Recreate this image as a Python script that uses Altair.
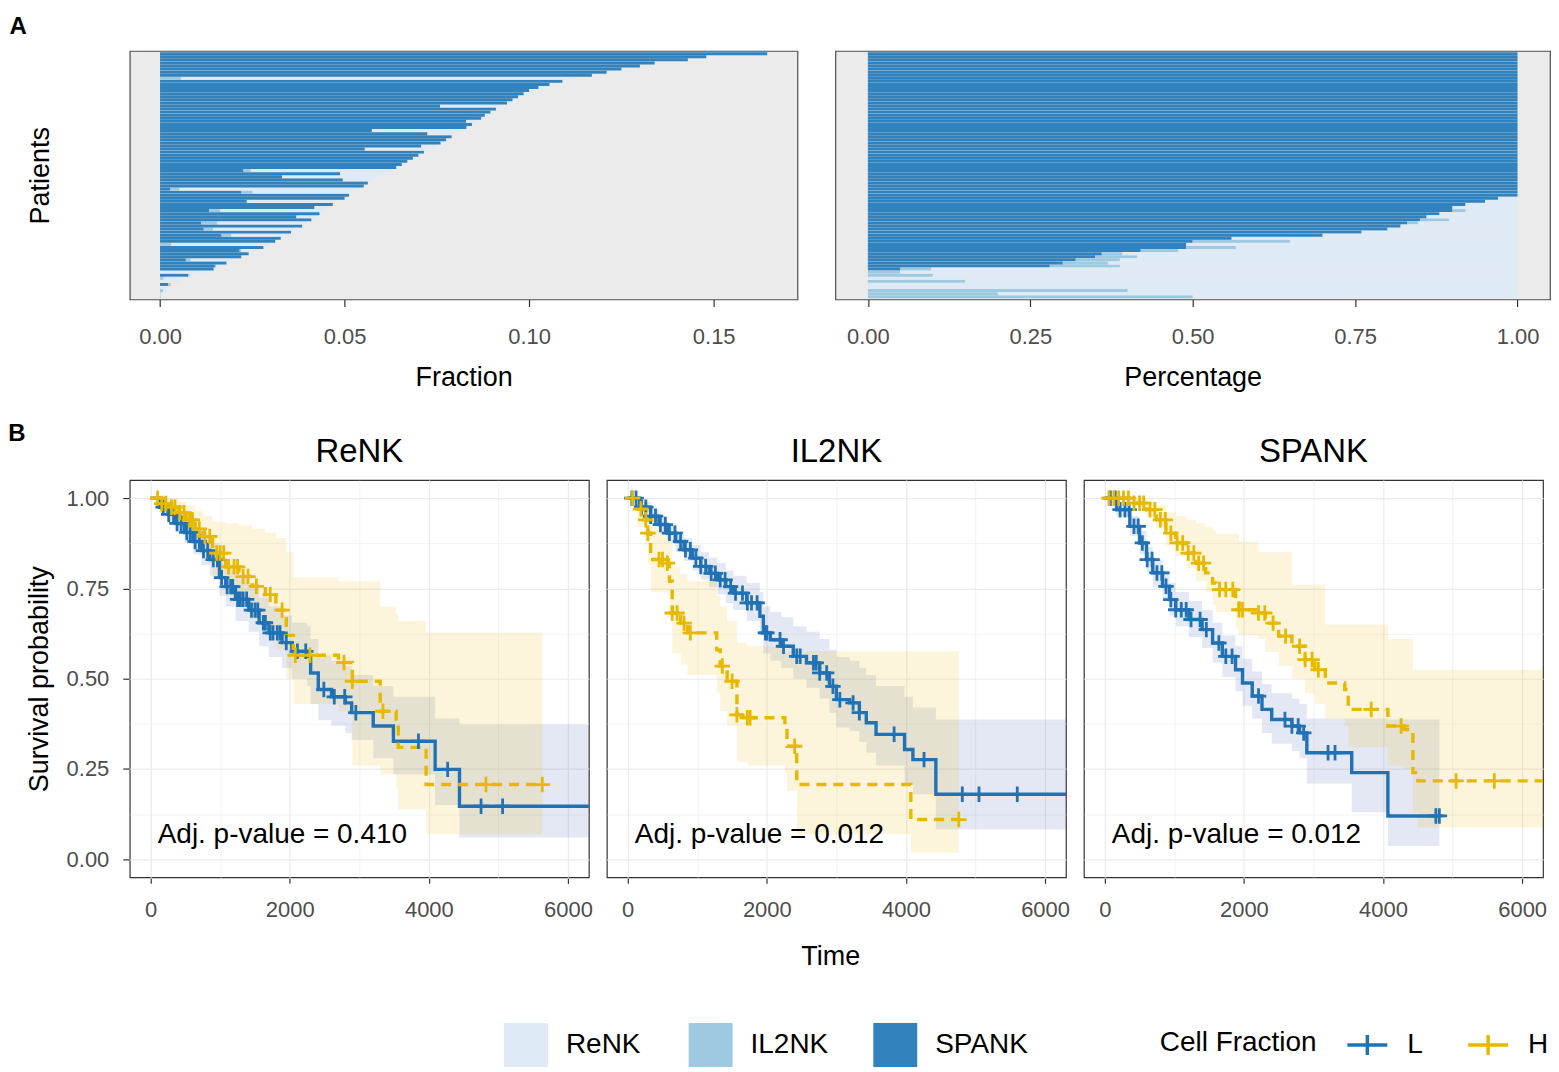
import altair as alt
import pandas as pd

FONT = "Liberation Sans"

# ---------------- Panel A data ----------------
cell_types = ["ReNK", "IL2NK", "SPANK"]
cell_colors = ["#DEEBF7", "#9ECAE1", "#3182BD"]

# total NK fraction per patient (patients ordered by total, bottom row first)
total_fraction = [
    0.0004, 0.001, 0.002, 0.003, 0.0045, 0.0055, 0.0065, 0.009, 0.012, 0.0145,
    0.0165, 0.018, 0.020, 0.022, 0.024, 0.026, 0.028, 0.0298, 0.0312, 0.0327,
    0.034, 0.0355, 0.037, 0.0385, 0.040, 0.041, 0.042, 0.0432, 0.0442, 0.0455,
    0.0468, 0.048, 0.050, 0.0512, 0.0525, 0.054, 0.0552, 0.0563, 0.0576, 0.059,
    0.061, 0.0628, 0.064, 0.0655, 0.067, 0.0685, 0.070, 0.0715, 0.073, 0.0745,
    0.076, 0.0775, 0.079, 0.0805, 0.082, 0.083, 0.0845, 0.0855, 0.087, 0.088,
    0.0895, 0.091, 0.0925, 0.094, 0.0955, 0.097, 0.0985, 0.100, 0.1025, 0.1055,
    0.109, 0.113, 0.117, 0.121, 0.125, 0.130, 0.134, 0.143, 0.148, 0.1645,
]
# share of the total that is SPANK
spank_share = [
    0, 0, 0, 0, 0.5, 0, 0, 0.85, 0, 1,
    0.9, 1, 0.35, 1, 1, 0.83, 1, 0, 1, 1,
    0.49, 1, 0.32, 1, 0.28, 1, 0.88, 1, 0.3, 0.92,
    1, 0.49, 1, 1, 0.42, 0.05, 1, 1, 0.86, 0.56,
    0.8, 0.36, 1, 1, 1, 1, 1, 1, 0.76, 0.95,
    1, 1, 1, 0.9, 0.7, 1, 1, 0.97, 1, 1,
    1, 1, 0.82, 1, 1, 1, 1, 1, 1, 1,
    1, 0, 1, 1, 1, 1, 1, 1, 1, 1,
]
# share of the non-SPANK remainder that is IL2NK (rest is ReNK)
il2nk_share_of_rest = [
    0.5, 0.2, 0.4, 0, 0.3, 0, 0.15, 0.3, 0, 0,
    0.2, 0, 0.1, 0, 0, 0.1, 0, 0.1, 0, 0,
    0.15, 0, 0.1, 0, 0.15, 0, 0, 0, 0.1, 0,
    0, 0, 0, 0, 0.1, 0.05, 0, 0, 0, 0,
    0, 0.05, 0, 0, 0, 0, 0, 0, 0, 0,
    0, 0, 0, 0, 0, 0, 0, 0, 0, 0,
    0, 0, 0, 0, 0, 0, 0, 0, 0, 0,
    0, 0.05, 0, 0, 0, 0, 0, 0, 0, 0,
]
fraction_ticks = [0, 0.05, 0.10, 0.15]
percentage_ticks = [0, 0.25, 0.5, 0.75, 1.0]

# ---------------- Panel B data ----------------
panels = ["ReNK", "IL2NK", "SPANK"]
p_value_labels = ["Adj. p-value = 0.410", "Adj. p-value = 0.012", "Adj. p-value = 0.012"]
groups = ["L", "H"]
group_colors = ["#2171B5", "#E7B800"]
band_colors = {"L": "#3A5BAE", "H": "#E7B800"}
line_dash = {"L": [1, 0], "H": [10, 7]}

renk_L_time = [0, 130, 250, 370, 490, 610, 730, 850, 990, 1080, 1220, 1410, 1560, 1700, 1890, 2030, 2250, 2300, 2410, 2600, 2800, 2890, 3200, 3490, 4090, 4440]
renk_L_surv = [1.0, 0.975, 0.955, 0.93, 0.905, 0.88, 0.855, 0.83, 0.78, 0.755, 0.72, 0.69, 0.655, 0.627, 0.60, 0.576, 0.562, 0.516, 0.47, 0.45, 0.433, 0.406, 0.369, 0.327, 0.249, 0.147]
renk_L_lower = [1.0, 0.96, 0.935, 0.905, 0.875, 0.845, 0.815, 0.785, 0.73, 0.70, 0.66, 0.63, 0.59, 0.56, 0.53, 0.50, 0.48, 0.43, 0.385, 0.37, 0.35, 0.33, 0.28, 0.235, 0.15, 0.06]
renk_L_upper = [1.0, 0.99, 0.975, 0.955, 0.935, 0.915, 0.895, 0.875, 0.83, 0.81, 0.78, 0.755, 0.725, 0.70, 0.675, 0.655, 0.645, 0.61, 0.565, 0.55, 0.535, 0.51, 0.48, 0.45, 0.39, 0.373]
renk_L_censor = [180, 260, 330, 380, 440, 520, 570, 640, 700, 760, 820, 900, 960, 1020, 1100, 1150, 1180, 1250, 1290, 1330, 1380, 1450, 1500, 1540, 1620, 1650, 1720, 1760, 1820, 1860, 1950, 2110, 2230, 2490, 2640, 2790, 2950, 3850, 4270, 4750, 5060]

renk_H_time = [0, 150, 270, 400, 510, 640, 750, 890, 1080, 1270, 1460, 1650, 1800, 1950, 2050, 2700, 2900, 3300, 3530, 3560, 3960]
renk_H_surv = [1.0, 0.985, 0.975, 0.96, 0.94, 0.915, 0.894, 0.848, 0.81, 0.783, 0.756, 0.733, 0.69, 0.62, 0.565, 0.545, 0.493, 0.41, 0.375, 0.31, 0.207]
renk_H_lower = [1.0, 0.96, 0.945, 0.925, 0.90, 0.87, 0.84, 0.78, 0.73, 0.70, 0.665, 0.635, 0.58, 0.50, 0.43, 0.41, 0.26, 0.235, 0.20, 0.138, 0.069]
renk_H_upper = [1.0, 1.0, 1.0, 0.99, 0.98, 0.965, 0.95, 0.935, 0.93, 0.925, 0.915, 0.905, 0.89, 0.85, 0.78, 0.77, 0.77, 0.70, 0.68, 0.66, 0.627]
renk_H_censor = [100, 160, 220, 300, 350, 420, 480, 560, 600, 700, 780, 850, 950, 1000, 1050, 1120, 1200, 1250, 1330, 1400, 1520, 1720, 1890, 2080, 2290, 2780, 2900, 3340, 4820, 5630]

il2nk_L_time = [0, 170, 330, 450, 570, 690, 810, 930, 1050, 1170, 1290, 1410, 1520, 1710, 1900, 1950, 2050, 2210, 2380, 2570, 2760, 2900, 3000, 3190, 3330, 3430, 3570, 3980, 4100, 4430]
il2nk_L_surv = [1.0, 0.975, 0.95, 0.927, 0.903, 0.88, 0.857, 0.834, 0.811, 0.792, 0.774, 0.755, 0.737, 0.71, 0.673, 0.627, 0.608, 0.59, 0.562, 0.544, 0.516, 0.479, 0.442, 0.433, 0.406, 0.378, 0.346, 0.304, 0.276, 0.18]
il2nk_L_lower = [1.0, 0.96, 0.93, 0.905, 0.878, 0.852, 0.826, 0.80, 0.775, 0.753, 0.733, 0.71, 0.69, 0.66, 0.62, 0.57, 0.55, 0.53, 0.50, 0.475, 0.445, 0.405, 0.365, 0.355, 0.325, 0.295, 0.26, 0.21, 0.18, 0.083]
il2nk_L_upper = [1.0, 0.99, 0.97, 0.95, 0.93, 0.91, 0.89, 0.87, 0.85, 0.835, 0.82, 0.80, 0.785, 0.765, 0.74, 0.70, 0.685, 0.67, 0.645, 0.63, 0.61, 0.58, 0.56, 0.55, 0.53, 0.51, 0.48, 0.45, 0.42, 0.387]
il2nk_L_censor = [60, 120, 200, 260, 330, 400, 470, 540, 600, 680, 760, 830, 900, 980, 1050, 1120, 1200, 1260, 1330, 1400, 1480, 1550, 1650, 1720, 1780, 1860, 1980, 2000, 2190, 2240, 2430, 2480, 2670, 2710, 2760, 2860, 2950, 3050, 3240, 3330, 3830, 4260, 4810, 5050, 5600]

il2nk_H_time = [0, 140, 240, 290, 330, 570, 600, 640, 760, 860, 1280, 1330, 1430, 1570, 1720, 2260, 2290, 2430, 4070]
il2nk_H_surv = [1.0, 0.97, 0.94, 0.903, 0.83, 0.82, 0.77, 0.682, 0.654, 0.627, 0.58, 0.535, 0.493, 0.40, 0.392, 0.369, 0.313, 0.207, 0.11]
il2nk_H_lower = [1.0, 0.92, 0.87, 0.82, 0.74, 0.73, 0.67, 0.57, 0.54, 0.51, 0.46, 0.41, 0.37, 0.27, 0.26, 0.24, 0.19, 0.07, 0.018]
il2nk_H_upper = [1.0, 1.0, 1.0, 0.98, 0.93, 0.92, 0.88, 0.81, 0.79, 0.77, 0.73, 0.70, 0.66, 0.60, 0.59, 0.58, 0.576, 0.576, 0.576]
il2nk_H_censor = [70, 190, 260, 290, 450, 500, 570, 640, 710, 810, 900, 1360, 1500, 1570, 1720, 1760, 2400, 4760]

spank_L_time = [0, 170, 360, 500, 600, 690, 830, 930, 1020, 1210, 1400, 1550, 1690, 1880, 1980, 2120, 2260, 2400, 2690, 2800, 2905, 3550, 4070]
spank_L_surv = [1.0, 0.968, 0.922, 0.876, 0.83, 0.793, 0.756, 0.719, 0.691, 0.664, 0.636, 0.599, 0.562, 0.525, 0.488, 0.452, 0.415, 0.387, 0.369, 0.35, 0.295, 0.24, 0.12]
spank_L_lower = [1.0, 0.95, 0.895, 0.845, 0.795, 0.755, 0.715, 0.675, 0.645, 0.615, 0.585, 0.545, 0.505, 0.465, 0.425, 0.39, 0.35, 0.32, 0.30, 0.28, 0.21, 0.13, 0.037]
spank_L_upper = [1.0, 0.985, 0.95, 0.91, 0.865, 0.83, 0.8, 0.765, 0.74, 0.715, 0.69, 0.655, 0.62, 0.59, 0.555, 0.52, 0.485, 0.46, 0.445, 0.43, 0.39, 0.39, 0.387]
spank_L_censor = [80, 150, 220, 290, 350, 420, 480, 540, 610, 680, 750, 820, 880, 950, 1020, 1100, 1170, 1240, 1370, 1460, 1640, 1740, 1830, 2210, 2590, 2690, 2780, 2860, 3210, 3310, 4760, 4810]

spank_H_time = [0, 360, 600, 740, 880, 1020, 1170, 1310, 1450, 1550, 1600, 1880, 1930, 2210, 2310, 2500, 2690, 2880, 3020, 3170, 3450, 3500, 4070, 4300, 4430, 4500]
spank_H_surv = [1.0, 0.986, 0.968, 0.94, 0.903, 0.876, 0.848, 0.82, 0.793, 0.765, 0.747, 0.71, 0.691, 0.682, 0.654, 0.618, 0.59, 0.553, 0.525, 0.488, 0.47, 0.415, 0.369, 0.359, 0.24, 0.217]
spank_H_lower = [1.0, 0.975, 0.95, 0.915, 0.87, 0.84, 0.805, 0.77, 0.74, 0.705, 0.685, 0.64, 0.62, 0.61, 0.575, 0.535, 0.5, 0.46, 0.43, 0.39, 0.37, 0.31, 0.26, 0.25, 0.13, 0.088]
spank_H_upper = [1.0, 1.0, 0.99, 0.98, 0.96, 0.95, 0.94, 0.93, 0.92, 0.91, 0.9, 0.9, 0.88, 0.85, 0.85, 0.85, 0.76, 0.76, 0.76, 0.65, 0.65, 0.65, 0.61, 0.61, 0.525, 0.525]
spank_H_censor = [60, 130, 200, 270, 340, 420, 500, 560, 650, 720, 800, 870, 950, 1040, 1120, 1200, 1280, 1350, 1420, 1650, 1740, 1840, 1930, 1980, 2210, 2300, 2420, 2600, 2800, 2880, 2980, 3070, 3830, 4260, 5050, 5600]

# last follow-up time of each curve (curves running past 6300 are clipped by the panel)
curve_end = {("ReNK", "L"): 6400, ("ReNK", "H"): 5630,
             ("IL2NK", "L"): 6400, ("IL2NK", "H"): 4760,
             ("SPANK", "L"): 4810, ("SPANK", "H"): 6400}

time_ticks = [0, 1000, 2000, 3000, 4000, 5000, 6000]
surv_ticks = [0, 0.125, 0.25, 0.375, 0.5, 0.625, 0.75, 0.875, 1.0]

# ---------------- build tables ----------------
n = len(total_fraction)
ids = [f"P{i:03d}" for i in range(n)]
rec = []
for i, pid in enumerate(ids):
    tot, sp, il = total_fraction[i], spank_share[i], il2nk_share_of_rest[i]
    parts = {"SPANK": sp, "IL2NK": (1 - sp) * il, "ReNK": (1 - sp) * (1 - il)}
    for k, ct in enumerate(["SPANK", "IL2NK", "ReNK"]):
        rec.append({"patient": pid, "type": ct, "stack": k,
                    "fraction": tot * parts[ct], "percentage": parts[ct]})
bars = pd.DataFrame(rec)
order_fraction = ids[::-1]
order_pct = [ids[i] for i in sorted(range(n), key=lambda i: (-spank_share[i], -total_fraction[i]))]

curves = [
    ("ReNK", "L", renk_L_time, renk_L_surv, renk_L_lower, renk_L_upper, renk_L_censor),
    ("ReNK", "H", renk_H_time, renk_H_surv, renk_H_lower, renk_H_upper, renk_H_censor),
    ("IL2NK", "L", il2nk_L_time, il2nk_L_surv, il2nk_L_lower, il2nk_L_upper, il2nk_L_censor),
    ("IL2NK", "H", il2nk_H_time, il2nk_H_surv, il2nk_H_lower, il2nk_H_upper, il2nk_H_censor),
    ("SPANK", "L", spank_L_time, spank_L_surv, spank_L_lower, spank_L_upper, spank_L_censor),
    ("SPANK", "H", spank_H_time, spank_H_surv, spank_H_lower, spank_H_upper, spank_H_censor),
]
rows = []
for panel, grp, T, S, LO, HI, C in curves:
    for t, s, lo, hi in zip(T, S, LO, HI):
        rows.append(dict(kind="curve", panel=panel, group=grp, t=t, s=s, lo=lo, hi=hi))
    rows.append(dict(kind="curve", panel=panel, group=grp, t=curve_end[(panel, grp)],
                     s=S[-1], lo=LO[-1], hi=HI[-1]))
for panel, grp, T, S, LO, HI, C in curves:
    for c in C:
        idx = max(k for k, t in enumerate(T) if t <= c)
        rows.append(dict(kind="censor", panel=panel, group=grp, t=c, s=S[idx]))
for panel, lab in zip(panels, p_value_labels):
    rows.append(dict(kind="label", panel=panel, label=lab))
km_df = pd.DataFrame(rows)

# ---------------- Panel A charts ----------------
cell_legend = alt.Legend(
    orient="none", legendX=375, legendY=974, direction="horizontal", title=None,
    symbolType="square", symbolSize=1936, symbolStrokeWidth=0, symbolOpacity=1,
    labelFont=FONT, labelFontSize=28, labelColor="black", labelOffset=18,
    columnPadding=30, gridAlign="all",
)
color_enc = alt.Color("type:N", scale=alt.Scale(domain=cell_types, range=cell_colors), legend=cell_legend)
view_a = alt.ViewBackground(fill="#EBEBEB", stroke="#4D4D4D", strokeWidth=1.2)


def bar_chart(field, domain, ticks, title, sort, yaxis, width):
    return alt.Chart(bars).mark_bar().encode(
        x=alt.X(f"{field}:Q", stack="zero",
                scale=alt.Scale(domain=domain, nice=False, zero=False),
                axis=alt.Axis(values=ticks, format=".2f", title=title, grid=False, domain=False,
                              tickSize=7, tickColor="#333333", tickWidth=1.2,
                              labelPadding=20, titlePadding=17, labelOverlap=False)),
        y=alt.Y("patient:N", sort=sort, scale=alt.Scale(paddingInner=0.03, paddingOuter=0.4), axis=yaxis),
        color=color_enc,
        order=alt.Order("stack:Q", sort="ascending"),
    ).properties(width=width, height=249, view=view_a)


bar_left = bar_chart("fraction", [-0.0082, 0.1727], fraction_ticks, "Fraction", order_fraction,
                     alt.Axis(title="Patients", labels=False, ticks=False, domain=False, titlePadding=75),
                     669)
bar_right = bar_chart("percentage", [-0.05, 1.05], percentage_ticks, "Percentage", order_pct, None, 716)

row_a = alt.hconcat(bar_left, bar_right, spacing=36,
                    title=alt.TitleParams("A", anchor="start", dx=-17, offset=11, font=FONT,
                                          fontSize=24, fontWeight="bold", color="black"))

# ---------------- Panel B charts ----------------
minor_x = "datum.value % 2000 !== 0"
minor_y = "abs(datum.value * 4 - round(datum.value * 4)) > 0.01"
x_scale = alt.Scale(domain=[-300, 6300], nice=False, zero=False)
y_scale = alt.Scale(domain=[-0.05, 1.05], nice=False, zero=False)
x_axis = alt.Axis(values=time_ticks, format="d", title=None, labelOverlap=False,
                  labelExpr=f"{minor_x} ? '' : datum.label",
                  grid=True, gridColor="#EBEBEB",
                  gridWidth={"condition": {"test": minor_x, "value": 0.6}, "value": 1.2},
                  tickColor={"condition": {"test": minor_x, "value": "transparent"}, "value": "#333333"},
                  tickSize=5, tickWidth=1.2, domain=False, labelPadding=16)
y_axis = alt.Axis(values=surv_ticks, format=".2f", title="Survival probability", labelOverlap=False,
                  labelExpr=f"{minor_y} ? '' : datum.label",
                  grid=True, gridColor="#EBEBEB",
                  gridWidth={"condition": {"test": minor_y, "value": 0.6}, "value": 1.2},
                  tickColor={"condition": {"test": minor_y, "value": "transparent"}, "value": "#333333"},
                  tickSize=6, tickWidth=1.2, domain=False, labelPadding=14, titlePadding=13)

frac_legend = alt.Legend(
    orient="none", legendX=1032, legendY=974, direction="horizontal", title="Cell Fraction",
    titleOrient="left", titleFont=FONT, titleFontSize=28, titleFontWeight="normal", titleColor="black",
    titlePadding=28, titleAnchor="middle", titleBaseline="middle",
    symbolType="M-1,0L1,0M0,-0.5L0,0.5", symbolSize=1600, symbolStrokeWidth=3.5,
    labelFont=FONT, labelFontSize=28, labelColor="black", labelOffset=18, columnPadding=38,
)
stroke_enc = alt.Stroke("group:N", scale=alt.Scale(domain=groups, range=group_colors), legend=frac_legend)
x_enc = alt.X("t:Q", scale=x_scale, axis=x_axis)


def band_layer(grp):
    return alt.Chart().transform_filter(
        f"datum.kind === 'curve' && datum.group === '{grp}'"
    ).mark_area(
        interpolate="step-after", clip=True, color=band_colors[grp], fillOpacity=0.14
    ).encode(
        x=x_enc,
        y=alt.Y("lo:Q", scale=y_scale, axis=y_axis),
        y2="hi:Q",
    )


def line_layer(grp):
    return alt.Chart().transform_filter(
        f"datum.kind === 'curve' && datum.group === '{grp}'"
    ).mark_line(
        interpolate="step-after", clip=True, strokeWidth=3.4, strokeDash=line_dash[grp]
    ).encode(
        x=x_enc,
        y=alt.Y("s:Q", scale=y_scale, axis=y_axis),
        stroke=stroke_enc,
    )


cens = alt.Chart().transform_filter("datum.kind === 'censor'").mark_point(
    shape="M-1,0L1,0M0,-1L0,1", filled=False, size=240, strokeWidth=2.8, opacity=1, clip=True
).encode(
    x=x_enc,
    y=alt.Y("s:Q", scale=y_scale, axis=y_axis),
    stroke=stroke_enc,
)
ptxt = alt.Chart().transform_filter("datum.kind === 'label'").mark_text(
    align="left", baseline="middle", font=FONT, fontSize=28, color="black"
).encode(x=alt.value(28), y=alt.value(356), text="label:N")

km = alt.layer(band_layer("L"), band_layer("H"), line_layer("L"), line_layer("H"), cens, ptxt,
               data=km_df).properties(width=460, height=398).facet(
    column=alt.Column("panel:N", sort=panels,
                      header=alt.Header(title=None, labelFont=FONT, labelFontSize=33, labelColor="black",
                                        labelPadding=10)),
    spacing=16,
    title=alt.TitleParams("Time", orient="bottom", anchor="middle", frame="bounds", font=FONT,
                          fontSize=27, fontWeight="normal", color="black", offset=24, dx=45),
)
row_b = alt.vconcat(km, title=alt.TitleParams("B", anchor="start", dx=-17, offset=-10, font=FONT,
                                                fontSize=24, fontWeight="bold", color="black"))

chart = alt.vconcat(row_a, row_b, spacing=31).configure(
    font=FONT, padding={"left": 0, "top": 6, "right": 0, "bottom": 2}
).configure_axis(
    labelFont=FONT, labelFontSize=22, labelColor="#4D4D4D",
    titleFont=FONT, titleFontSize=27, titleFontWeight="normal", titleColor="black",
).configure_view(stroke="#333333", strokeWidth=1.2)

chart.save("out.html", embed_options={"renderer": "svg", "actions": False})
